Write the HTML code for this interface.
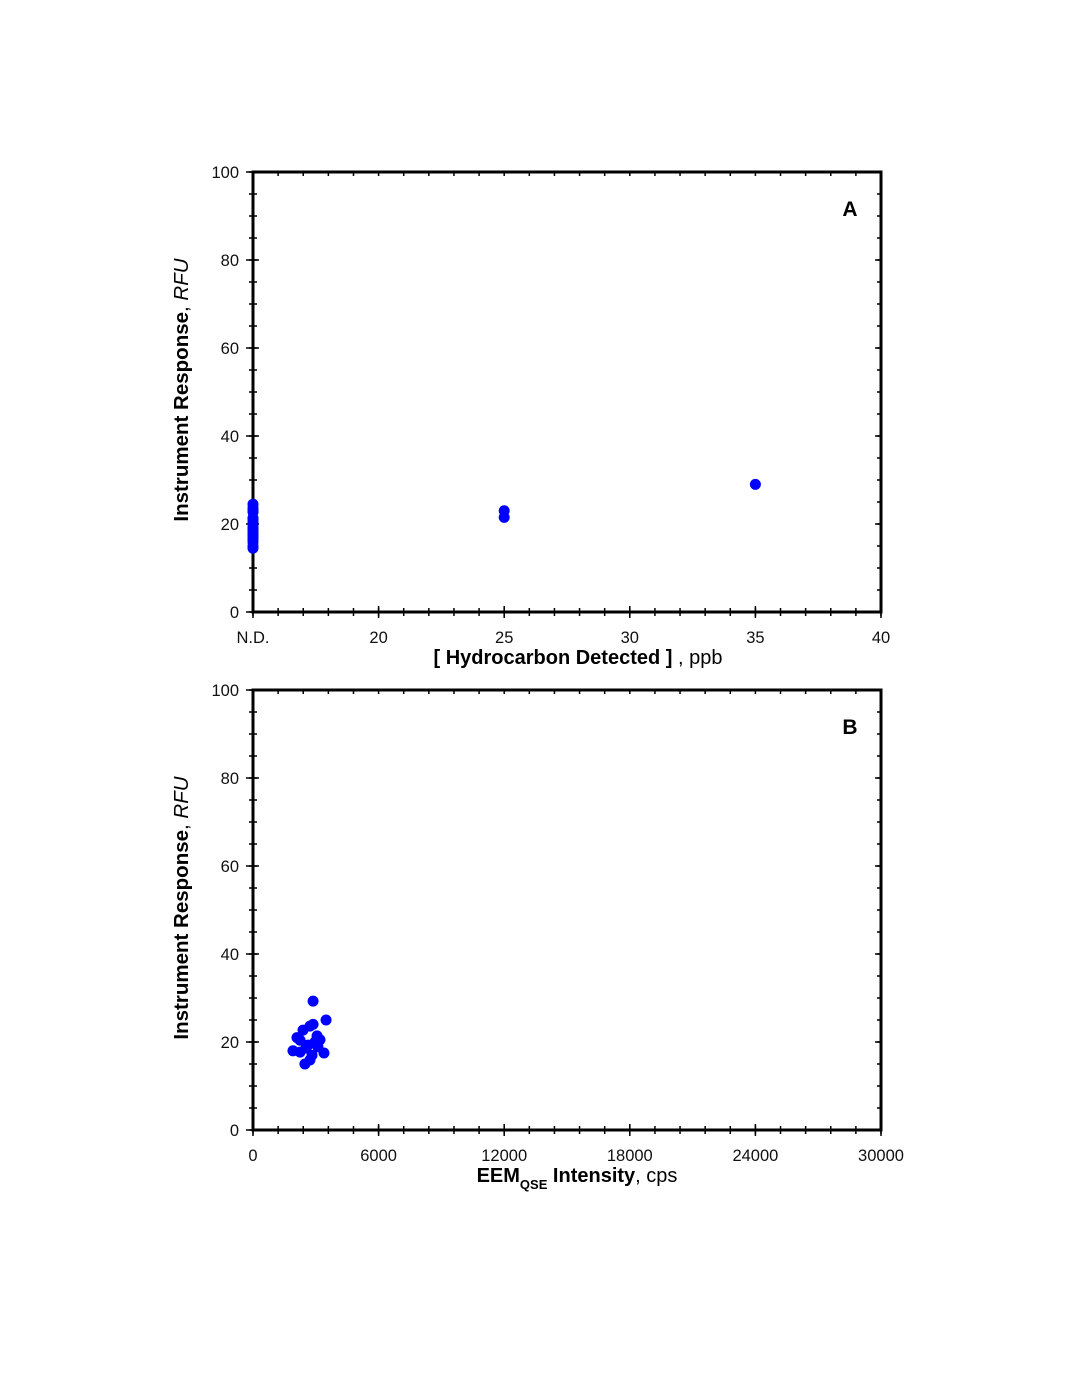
<!DOCTYPE html>
<html><head><meta charset="utf-8"><style>
html,body{margin:0;padding:0;background:#fff;}
svg{display:block;font-family:"Liberation Sans",Arial,sans-serif;}
</style></head><body>
<svg id="fig" width="1069" height="1383" viewBox="0 0 1069 1383"></svg>
<script>
// Panel A data
const ndYValues = [24.5,23.6,23,22.7,21.4,21,20.4,20,19.3,18.9,18.6,18,17.7,17.5,17,16.5,15.9,15,14.5];
const ppbXValues = [25,25,35];
const ppbYValues = [23,21.5,29];
const xTicksA = [15,20,25,30,35,40];
const xTickLabelsA = ["N.D.","20","25","30","35","40"];
const yTicks = [0,20,40,60,80,100];
// Panel B data
const cpsXValues = [2870,3490,1910,2100,2390,2720,2870,2250,2630,2960,3100,2820,2480,2720,3390,2250,3060,2530,3200];
const cpsYValues = [29.3,25,18,21,22.7,23.6,24,20.4,19.3,20,18.9,17,15,15.9,17.5,17.7,21.4,18.6,20.5];
const xTicksB = [0,6000,12000,18000,24000,30000];
const xTickLabelsB = ["0","6000","12000","18000","24000","30000"];

const NS="http://www.w3.org/2000/svg";
const svg=document.getElementById('fig');
function mk(tag,attrs,parent){const e=document.createElementNS(NS,tag);for(const k in attrs)e.setAttribute(k,attrs[k]);(parent||svg).appendChild(e);return e;}

function panel(cfg){
  const L=253,R=881,T=cfg.top,B=cfg.top+440;
  const xs=v=>L+(v-cfg.xmin)/(cfg.xmax-cfg.xmin)*(R-L);
  const ys=v=>B-(v/100)*(B-T);
  const g=mk('g',{});
  
  
  for(let v=cfg.xmin;v<=cfg.xmax+1e-9;v+=cfg.xminor){const x=xs(v);
    mk('line',{x1:x,y1:B-4,x2:x,y2:B+4,stroke:'#000','stroke-width':1.5},g);
    mk('line',{x1:x,y1:T,x2:x,y2:T+4,stroke:'#000','stroke-width':1.5},g);}
  for(let v=0;v<=100;v+=5){const y=ys(v);
    mk('line',{x1:L-4,y1:y,x2:L+4,y2:y,stroke:'#000','stroke-width':1.5},g);
    mk('line',{x1:R-4,y1:y,x2:R,y2:y,stroke:'#000','stroke-width':1.5},g);}
  cfg.xticks.forEach((v,i)=>{const x=xs(v);
    mk('line',{x1:x,y1:B-6,x2:x,y2:B+6,stroke:'#000','stroke-width':1.5},g);
    const t=mk('text',{x:x,y:B+31,'text-anchor':'middle','font-size':16.5,fill:'#111'},g);
    t.textContent=cfg.xlabels[i];
    
    });
  yTicks.forEach(v=>{const y=ys(v);
    mk('line',{x1:L-7,y1:y,x2:L+6,y2:y,stroke:'#000','stroke-width':1.5},g);
    mk('line',{x1:R-6,y1:y,x2:R,y2:y,stroke:'#000','stroke-width':1.5},g);
    const t=mk('text',{x:L-14,y:y+6,'text-anchor':'end','font-size':16.5,fill:'#111'},g);
    t.textContent=String(v);
    
    });
  const fr=mk('rect',{x:L,y:T,width:R-L,height:B-T,fill:'none',stroke:'#000','stroke-width':3},g);
  
  
  cfg.xv.forEach((xv,i)=>{
    const c=mk('circle',{cx:xs(xv),cy:ys(cfg.yv[i]),r:5.5,fill:'#0000ff'},g);
    
    });
  const lab=mk('text',{x:850,y:T+44,'text-anchor':'middle','font-size':21,'font-weight':'bold'},g);
  lab.textContent=cfg.letter;
  
  
  const yt=mk('text',{transform:`translate(188,${(T+B)/2-2}) rotate(-90)`,'text-anchor':'middle','font-size':20.5},g);
  yt.innerHTML='<tspan font-weight="bold">Instrument Response</tspan>, <tspan font-style="italic">RFU</tspan>';
  
  
  const xt=mk('text',{x:cfg.xtX,y:B+52,'text-anchor':'middle','font-size':20},g);
  xt.innerHTML=cfg.xtitle;
  
  
}
const ax=[],ay=[];
ndYValues.forEach(v=>{ax.push(15);ay.push(v);});
ppbXValues.forEach((v,i)=>{ax.push(v);ay.push(ppbYValues[i]);});
panel({name:'panel-a',top:172,xmin:15,xmax:40,xminor:1,xticks:xTicksA,xlabels:xTickLabelsA,xv:ax,yv:ay,letter:'A',xtX:578,
  xtitle:'<tspan font-weight="bold">[ Hydrocarbon Detected ]</tspan> , ppb'});
panel({name:'panel-b',top:690,xmin:0,xmax:30000,xminor:1200,xticks:xTicksB,xlabels:xTickLabelsB,xv:cpsXValues,yv:cpsYValues,letter:'B',xtX:577,
  xtitle:'<tspan font-weight="bold">EEM</tspan><tspan font-weight="bold" font-size="13" dy="7">QSE</tspan><tspan font-weight="bold" dy="-7"> Intensity</tspan>, cps'});
</script>
</body></html>
